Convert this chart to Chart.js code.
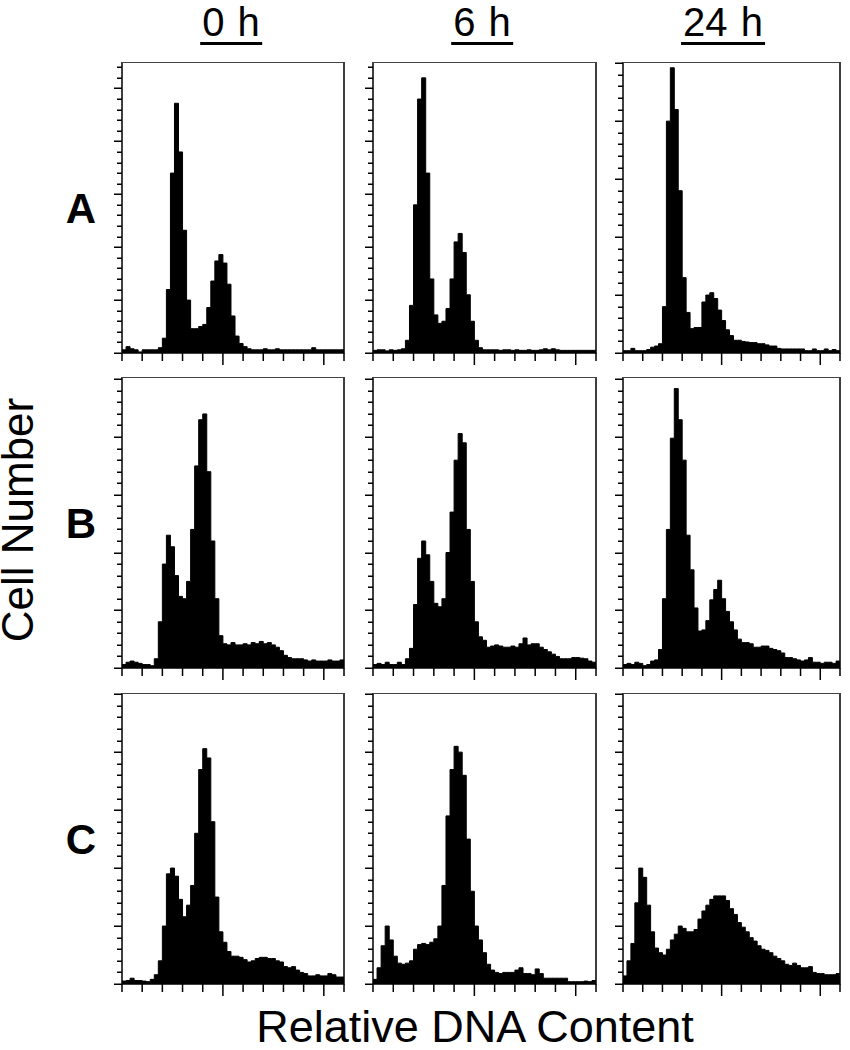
<!DOCTYPE html>
<html>
<head>
<meta charset="utf-8">
<script src="https://cdn.jsdelivr.net/npm/chart.js@4.4.1/dist/chart.umd.min.js"></script>
<style>
  body { margin: 0; background: #fff; }
  #page { position: relative; width: 850px; height: 1050px; overflow: hidden; font-family: "Liberation Sans", Arial, sans-serif; color: #000; }
  .panel { position: absolute; }
  .head { position: absolute; top: 2px; font-size: 40px; line-height: 40px; word-spacing: 2px; text-align: center; transform: translateX(-50%); padding: 0 2px; border-bottom: 3px solid #000; white-space: nowrap; }
  .row { position: absolute; left: 62px; width: 38px; font-weight: bold; font-size: 42px; line-height: 42px; text-align: center; }
  .ytitle { position: absolute; left: -132px; top: 498px; width: 300px; font-size: 44px; line-height: 44px; text-align: center; transform: rotate(-90deg); white-space: nowrap; }
  .xtitle { position: absolute; left: 175px; top: 1004px; width: 600px; font-size: 45px; line-height: 45px; text-align: center; white-space: nowrap; }
</style>
</head>
<body>
<div id="page"></div>
<script>
// time points (columns) and samples (rows)
const timeLabels = ['0 h', '6 h', '24 h'];
const rowLabels = ['A', 'B', 'C'];
const yTitle = 'Cell Number';
const xTitle = 'Relative DNA Content';

// channel axis: 0..110, bins of 2 channels, ticks every 10
const xMax = 110;
const binWidth = 2;
const xTicks = [0, 10, 20, 30, 40, 50, 60, 70, 80, 90, 100, 110];
const xLongTicks = [50, 100];
// cell-number axis: minor tick every 1, long tick every 5
const yTickStep = 1;
const yLongEvery = 5;
const yMaxA = [27.5, 27.5, 25.1];
const yMaxB = [25.2, 25.2, 25.2];
const yMaxC = [25.1, 25.1, 25.1];

// histogram counts, one value per 2-channel bin (55 bins)
const a_0h = [0.3, 0.6, 0.4, 0.3, 0.1, 0.3, 0.3, 0.3, 0.3, 0.5,
  1.4, 6, 17, 23.6, 19, 11.6, 5, 2.3, 2.3, 2.5,
  2.7, 4.3, 6.8, 8.7, 9.3, 8.5, 6.5, 3.5, 1.6, 0.9,
  0.6, 0.4, 0.3, 0.3, 0.3, 0.4, 0.3, 0.3, 0.4, 0.3,
  0.3, 0.3, 0.3, 0.3, 0.3, 0.3, 0.3, 0.5, 0.3, 0.3,
  0.3, 0.3, 0.3, 0.3, 0.3];
const a_6h = [0.25, 0.3, 0.3, 0.2, 0.3, 0.25, 0.3, 0.4, 1.2, 4.5,
  14, 24, 26, 17, 7, 3.6, 2.8, 3, 4.2, 7,
  10.5, 11.3, 9.5, 5.5, 3, 1.2, 0.5, 0.3, 0.3, 0.3,
  0.3, 0.25, 0.3, 0.3, 0.25, 0.3, 0.25, 0.25, 0.3, 0.25,
  0.25, 0.3, 0.4, 0.3, 0.4, 0.3, 0.25, 0.25, 0.25, 0.25,
  0.25, 0.25, 0.25, 0.25, 0.25];
const a_24h = [0.2, 0.2, 0.4, 0.2, 0.2, 0.2, 0.3, 0.5, 0.6, 0.8,
  4, 20, 24.6, 21, 14, 6.5, 3.5, 2.1, 2.2, 2.2,
  4.4, 5, 5.2, 4.7, 3.7, 2.8, 2, 1.5, 1.1, 1.1,
  1.0, 0.95, 0.9, 0.9, 0.8, 0.8, 0.7, 0.6, 0.6, 0.4,
  0.35, 0.35, 0.35, 0.35, 0.35, 0.35, 0.2, 0.2, 0.35, 0.2,
  0.2, 0.35, 0.2, 0.3, 0.2];
const b_0h = [0.3, 0.5, 0.6, 0.5, 0.4, 0.3, 0.3, 0.2, 0.8, 4,
  9, 11.5, 10.5, 8, 6.2, 6, 7.5, 12, 17.5, 21.5,
  22, 17, 11, 6, 2.8, 2.1, 2.0, 2.2, 2.0, 2.0,
  2.1, 2.0, 2.2, 2.1, 2.3, 2.1, 2.2, 2.0, 1.8, 1.5,
  1.1, 0.9, 0.8, 0.8, 0.8, 0.7, 0.6, 0.7, 0.6, 0.6,
  0.6, 0.7, 0.6, 0.6, 0.7];
const b_6h = [0.3, 0.4, 0.3, 0.5, 0.3, 0.3, 0.5, 0.3, 0.8, 1.7,
  5.5, 9.5, 11, 9.8, 7.5, 5.6, 5.3, 6, 10, 13.5,
  18, 20.3, 19.5, 12, 7.5, 4, 2.7, 2.4, 1.8, 1.9,
  2.0, 1.9, 1.8, 1.8, 1.9, 1.8, 2.1, 2.6, 2.0, 2.1,
  2.1, 1.8, 1.6, 1.4, 1.2, 1.0, 0.8, 0.8, 0.8, 0.9,
  0.9, 0.85, 0.8, 0.6, 0.5];
const b_24h = [0.3, 0.4, 0.3, 0.5, 0.4, 0.2, 0.3, 0.6, 0.7, 1.6,
  6, 12, 19.9, 24.2, 21.5, 18, 11.5, 8.5, 5.2, 3.2,
  3.3, 4.1, 5.9, 6.8, 7.6, 6, 4.9, 4, 3.3, 2.5,
  2.2, 2.2, 2.1, 1.8, 1.8, 1.9, 1.9, 1.7, 1.6, 1.5,
  1.3, 0.9, 0.9, 0.8, 0.7, 0.6, 0.7, 0.9, 0.5, 0.5,
  0.4, 0.5, 0.5, 0.4, 0.6];
const c_0h = [0.25, 0.3, 0.5, 0.3, 0.3, 0.25, 0.2, 0.4, 0.8, 2,
  5, 9.5, 10, 9.3, 7.3, 5.8, 6.8, 8.5, 13, 18.5,
  20.3, 19.5, 14, 7.5, 4.5, 3.6, 2.8, 2.4, 2.4, 2.3,
  2.1, 1.9, 2.0, 2.2, 2.3, 2.3, 2.2, 2.2, 2.0, 1.9,
  1.5, 1.4, 1.5, 1.2, 1.0, 0.9, 0.7, 0.7, 0.8, 0.7,
  0.7, 0.9, 0.8, 0.6, 0.6];
const c_6h = [0.4, 1.4, 3.3, 5, 3.8, 2.4, 1.8, 1.7, 1.8, 2.0,
  3.0, 3.4, 3.5, 3.4, 3.6, 3.9, 5, 8.5, 14.5, 18.5,
  20.5, 20, 18, 12.5, 8, 5, 3.8, 2.7, 1.7, 1.2,
  1.0, 0.9, 1.0, 1.0, 1.0, 1.2, 1.4, 0.9, 0.9, 0.8,
  1.3, 0.9, 0.5, 0.5, 0.5, 0.5, 0.5, 0.5, 0.2, 0.2,
  0.2, 0.2, 0.25, 0.2, 0.3];
const c_24h = [0.7, 2, 3.5, 7, 10, 9.2, 6.8, 4.5, 3.1, 2.7,
  2.5, 3.0, 3.8, 4.3, 5.0, 4.8, 4.5, 4.5, 4.7, 5.6,
  6.3, 6.8, 7.3, 7.6, 7.6, 7.6, 7.2, 6.5, 6.0, 5.3,
  4.9, 4.5, 4.0, 3.7, 3.3, 3.0, 2.9, 2.7, 2.4, 2.2,
  2.0, 1.7, 1.6, 1.8, 1.6, 1.4, 1.4, 1.5, 1.0, 0.9,
  0.9, 0.8, 0.8, 0.8, 0.9];

const rows = [
  { label: rowLabels[0], series: [a_0h, a_6h, a_24h], yMax: yMaxA },
  { label: rowLabels[1], series: [b_0h, b_6h, b_24h], yMax: yMaxB },
  { label: rowLabels[2], series: [c_0h, c_6h, c_24h], yMax: yMaxC },
];

// layout of the plot boxes on the page
const colLeft = [122, 373, 623];
const colWidth = [222, 223, 217];
const headCenter = [231, 482, 723];
const rowTop = [62, 377, 693];
const boxHeight = 291;
const pad = { left: 12, right: 3, top: 3, bottom: 16 };

const page = document.getElementById('page');

// box, left ticks and bottom ticks
const frame = {
  id: 'frame',
  afterDatasetsDraw(chart) {
    const { ctx, chartArea: a, scales: { x, y } } = chart;
    ctx.save();
    ctx.strokeStyle = '#000';
    ctx.lineWidth = 1.5;
    ctx.beginPath();
    ctx.moveTo(a.left, a.top);
    ctx.lineTo(a.left, a.bottom);
    ctx.lineTo(a.right, a.bottom);
    ctx.lineTo(a.right, a.top);
    ctx.stroke();
    ctx.strokeStyle = '#444';
    ctx.lineWidth = 1;
    ctx.beginPath();
    ctx.moveTo(a.left, a.top + 0.5);
    ctx.lineTo(a.right, a.top + 0.5);
    ctx.stroke();

    ctx.strokeStyle = '#000';
    ctx.lineWidth = 1.5;
    ctx.beginPath();
    for (let v = 0; v <= y.max + 1e-6; v += yTickStep) {
      const py = Math.round(y.getPixelForValue(v)) + 0.25;
      const len = v % yLongEvery === 0 ? 8 : 5;
      ctx.moveTo(a.left, py);
      ctx.lineTo(a.left - len, py);
    }
    xTicks.forEach(v => {
      const px = x.getPixelForValue(v);
      const len = xLongTicks.includes(v) ? 12 : 8;
      ctx.moveTo(px, a.bottom);
      ctx.lineTo(px, a.bottom + len);
    });
    ctx.stroke();
    ctx.restore();
  }
};

function makePanel(values, yMax, left, top, width) {
  const cv = document.createElement('canvas');
  const w = width + pad.left + pad.right;
  const h = boxHeight + pad.top + pad.bottom;
  cv.width = w;
  cv.height = h;
  cv.className = 'panel';
  cv.style.left = (left - pad.left) + 'px';
  cv.style.top = (top - pad.top) + 'px';
  page.appendChild(cv);

  const points = values.map((v, i) => ({ x: i * binWidth, y: v }));
  points.push({ x: xMax, y: values[values.length - 1] });

  new Chart(cv.getContext('2d'), {
    type: 'line',
    data: {
      datasets: [{
        data: points,
        stepped: true,
        fill: 'origin',
        backgroundColor: '#000',
        borderColor: '#000',
        borderWidth: 1,
        pointRadius: 0,
        tension: 0
      }]
    },
    options: {
      responsive: false,
      animation: false,
      events: [],
      layout: { padding: pad },
      plugins: { legend: { display: false }, tooltip: { enabled: false } },
      scales: {
        x: { type: 'linear', min: 0, max: xMax, display: false },
        y: { type: 'linear', min: 0, max: yMax, display: false }
      }
    },
    plugins: [frame]
  });
}

rows.forEach((row, r) => {
  row.series.forEach((vals, c) => {
    makePanel(vals, row.yMax[c], colLeft[c], rowTop[r], colWidth[c]);
  });
  const lab = document.createElement('div');
  lab.className = 'row';
  lab.textContent = row.label;
  lab.style.top = (rowTop[r] + boxHeight / 2 - 20) + 'px';
  page.appendChild(lab);
});

timeLabels.forEach((t, c) => {
  const d = document.createElement('div');
  d.className = 'head';
  d.textContent = t;
  d.style.left = headCenter[c] + 'px';
  page.appendChild(d);
});

const yt = document.createElement('div');
yt.className = 'ytitle';
yt.textContent = yTitle;
page.appendChild(yt);

const xt = document.createElement('div');
xt.className = 'xtitle';
xt.textContent = xTitle;
page.appendChild(xt);
</script>
</body>
</html>
